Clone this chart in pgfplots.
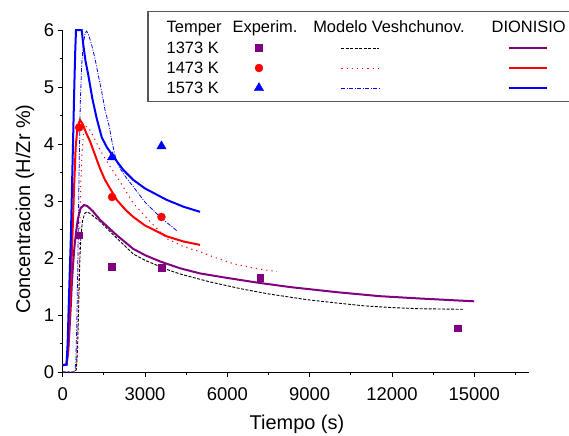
\documentclass[border=0pt]{standalone}
\usepackage{fontspec}
\setmainfont{Liberation Sans}
\usepackage{pgfplots}
\pgfplotsset{compat=1.18}
\definecolor{mypurple}{RGB}{128,0,128}
\definecolor{myred}{RGB}{255,0,0}
\definecolor{myblue}{RGB}{0,0,255}
\pgfplotsset{
  lineimg/.style={legend image code/.code={\path[draw=none,fill=none] (0bp,-6bp) rectangle (38bp,6bp); \draw[##1] (0bp,0bp) -- (38bp,0bp);}},
  markimg/.style={legend image code/.code={\path[draw=none,fill=none] (0bp,-6bp) rectangle (38bp,6bp); \draw[##1] plot coordinates {(19bp,0bp)};}},
  vesh1373/.style={black, line width=0.9bp, dash pattern=on 3bp off 1.5bp},
  vesh1473/.style={myred, line width=1bp, dash pattern=on 1.2bp off 4bp},
  vesh1573/.style={myblue, line width=0.8bp, dash pattern=on 4bp off 1.5bp on 1bp off 1.5bp},
  dion1373/.style={mypurple, line width=2bp},
  dion1473/.style={myred, line width=2bp},
  dion1573/.style={myblue, line width=2bp},
  exp1373/.style={only marks, mark=square*, mark size=3.4bp, mypurple, mark options={solid, fill=mypurple, draw=mypurple}},
  exp1473/.style={only marks, mark=*, mark size=4bp, myred, mark options={solid, fill=myred, draw=myred}},
  exp1573/.style={only marks, mark=triangle*, mark size=5.4bp, myblue, mark options={solid, fill=myblue, draw=myblue}},
}
\begin{document}
\begin{tikzpicture}
\useasboundingbox (-62.7bp,-64bp) rectangle (506.3bp,372bp);
\draw[black!65, line width=1.1bp, fill=white] (85.3bp,270.3bp) rectangle (515bp,360.3bp);
\begin{axis}[
  scale only axis,
  width=466.4bp, height=342bp,
  xmin=0, xmax=17000, ymin=0, ymax=6,
  clip=false,
  axis x line*=bottom, axis y line*=left,
  axis line style={-, line width=0.8bp},
  tick align=outside,
  major tick length=5bp, minor tick length=3bp,
  every tick/.style={black, line width=0.8bp},
  xtick={0,3000,6000,9000,12000,15000},
  minor xtick={1500,4500,7500,10500,13500,16500},
  ytick={0,1,2,3,4,5,6},
  minor ytick={0.5,1.5,2.5,3.5,4.5,5.5},
  scaled x ticks=false,
  /pgf/number format/assume math mode=true,
  /pgf/number format/1000 sep={},
  tick label style={font=\fontsize{18.5}{20}\selectfont},
  xticklabel style={yshift=-7bp},
  xlabel={Tiempo (s)},
  ylabel={Concentracion (H/Zr \%)},
  label style={font=\fontsize{20}{22}\selectfont},
  xlabel style={at={(axis description cs:0.5023,-0.152)}, anchor=center},
  ylabel style={at={(axis description cs:-0.0808,0.4766)}, anchor=center},
  legend columns=3,
  legend style={at={(0.3801,0.9649)}, anchor=north west, draw=none, fill=none,
    inner sep=0pt, outer sep=0pt, column sep=0pt, row sep=8bp,
    nodes={inner sep=0pt, outer sep=0pt}},
]
% ---- Veshchunov model ----
\addplot[vesh1373, forget plot] coordinates {
(0,0) (450,0) (500,0.05) (540,0.4) (580,1.1) (620,1.9) (660,2.35) (720,2.65) (800,2.78) (875,2.81)
(1000,2.78) (1360,2.64) (1968,2.35) (2573,2.07) (3000,1.96) (3790,1.8) (4275,1.72) (5370,1.58)
(6500,1.46) (7500,1.37) (8894,1.27) (10000,1.21) (11000,1.16) (12000,1.13) (13000,1.11) (14600,1.1)};
\addplot[vesh1473, forget plot] coordinates {
(0,0) (450,0) (500,0.1) (540,0.6) (580,1.5) (620,2.5) (660,3.3) (700,3.8) (750,4.15) (810,4.32)
(950,4.28) (1100,4.15) (1360,3.9) (1600,3.7) (1968,3.43) (2573,2.96) (3182,2.64) (3790,2.34)
(4400,2.2) (5005,2.11) (5600,2.0) (6218,1.9) (7000,1.82) (7800,1.76)};
\addplot[vesh1573, forget plot] coordinates {
(0,0) (440,0) (480,0.2) (520,1.0) (560,2.2) (600,3.6) (640,4.7) (692,5.39) (750,5.75) (820,5.95)
(875,5.98) (940,5.92) (1050,5.75) (1177,5.5) (1300,5.2) (1421,4.92) (1542,4.6) (1700,4.3)
(1785,4.07) (1906,3.8) (2050,3.6) (2300,3.42) (2573,3.25) (3000,2.98) (3546,2.72) (4155,2.48)};
% ---- DIONISIO ----
\addplot[dion1373, forget plot] coordinates {
(0,0.12) (140,0.13) (200,0.35) (250,0.75) (300,1.2) (328,1.5) (380,1.9) (430,2.2) (474,2.4)
(550,2.68) (650,2.87) (780,2.93) (900,2.91) (1100,2.82) (1360,2.67) (1968,2.4) (2573,2.16)
(3000,2.05) (3546,1.94) (4275,1.82) (5000,1.73) (6000,1.65) (7070,1.57) (8285,1.49) (10000,1.4)
(11565,1.33) (13000,1.29) (15000,1.24)};
\addplot[dion1473, forget plot] coordinates {
(0,0.12) (140,0.13) (200,0.45) (250,1.0) (290,1.5) (350,2.3) (412,3.2) (474,3.95) (540,4.3)
(630,4.42) (720,4.36) (850,4.2) (995,4.05) (1200,3.78) (1360,3.57) (1542,3.37) (1750,3.2)
(1968,3.02) (2300,2.84) (2573,2.72) (3000,2.57) (3546,2.44) (3790,2.38) (4400,2.29) (5005,2.23)};
\addplot[dion1573, forget plot] coordinates {
(0,0.12) (140,0.13) (180,0.5) (210,1.0) (241,1.5) (300,2.4) (339,3.25) (380,4.1) (423,5.0)
(455,5.6) (485,6.0) (692,6.0) (751,5.74) (833,5.45) (933,5.21) (1080,4.8) (1239,4.45) (1421,4.12)
(1600,3.95) (1845,3.78) (2200,3.55) (2573,3.37) (3000,3.22) (3790,3.02) (4400,2.9) (5005,2.81)};
% ---- Experimental ----
\addplot[exp1373, forget plot] coordinates {(600,2.4) (1800,1.85) (3600,1.83) (7200,1.66) (14400,0.77)};
\addplot[exp1473, forget plot] coordinates {(600,4.29) (1800,3.07) (3600,2.72)};
\addplot[exp1573, forget plot] coordinates {(1800,3.77) (3600,3.96)};
% ---- legend icons ----
\addlegendimage{exp1373, markimg}
\addlegendentry{\hspace*{63bp}}
\addlegendimage{vesh1373, lineimg}
\addlegendentry{\hspace*{127.7bp}}
\addlegendimage{dion1373, lineimg}
\addlegendentry{\hspace*{0bp}}
\addlegendimage{exp1473, markimg}
\addlegendentry{\hspace*{63bp}}
\addlegendimage{vesh1473, lineimg}
\addlegendentry{\hspace*{127.7bp}}
\addlegendimage{dion1473, lineimg}
\addlegendentry{\hspace*{0bp}}
\addlegendimage{exp1573, markimg}
\addlegendentry{\hspace*{63bp}}
\addlegendimage{vesh1573, lineimg}
\addlegendentry{\hspace*{127.7bp}}
\addlegendimage{dion1573, lineimg}
\addlegendentry{\hspace*{0bp}}
\end{axis}
\begin{scope}[every node/.style={inner sep=0pt, outer sep=0pt}, font=\fontsize{16.5}{18}\selectfont]
\node[anchor=base west] at (104bp,339bp) {Temper};
\node[anchor=base] at (202.3bp,339bp) {Experim.};
\node[anchor=base] at (326.3bp,339bp) {Modelo Veshchunov.};
\node[anchor=base west] at (429bp,339bp) {DIONISIO};
\node[anchor=base west] at (104bp,318.7bp) {1373 K};
\node[anchor=base west] at (104bp,298.7bp) {1473 K};
\node[anchor=base west] at (104bp,278.7bp) {1573 K};
\end{scope}
\end{tikzpicture}
\end{document}
